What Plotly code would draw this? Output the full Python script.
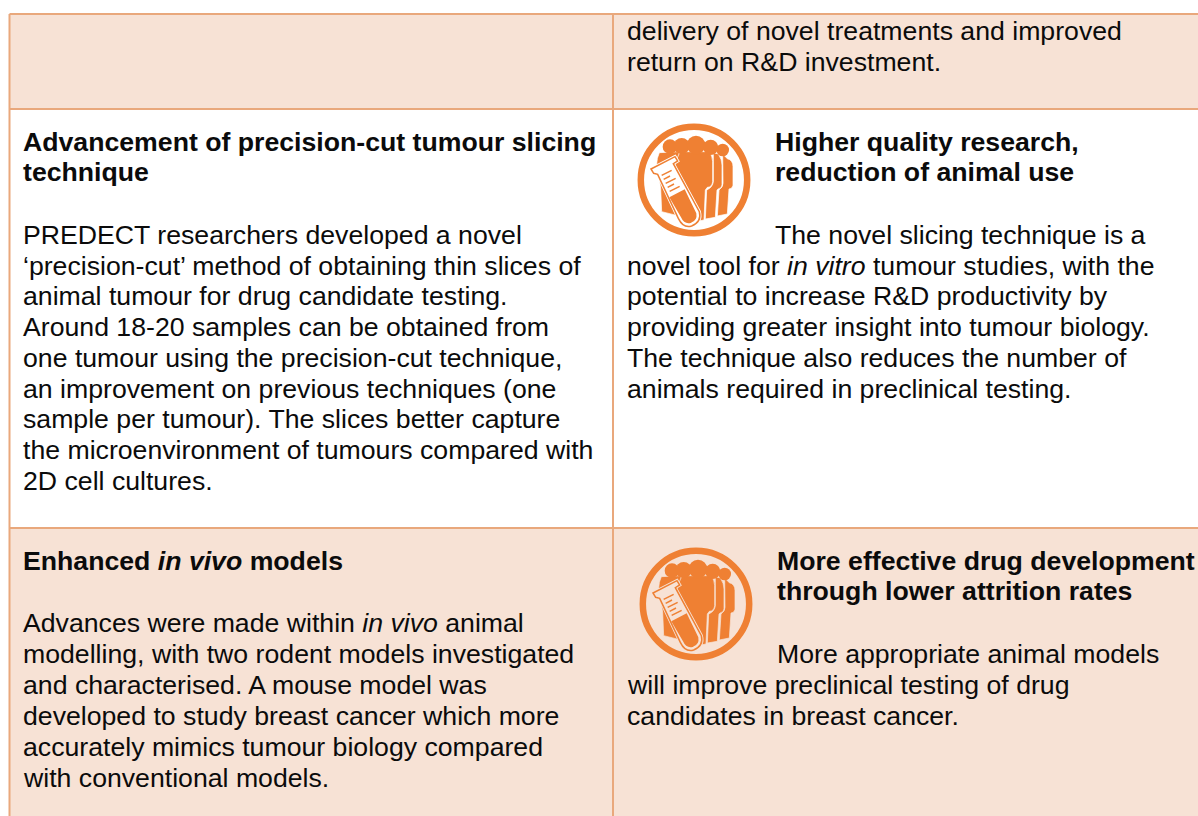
import re
import plotly.graph_objects as go

# ---- text content ----
TOP_RIGHT = ["delivery of novel treatments and improved", "return on R&D investment."]
SLICE_TITLE = ["<b>Advancement of precision-cut tumour slicing</b>", "<b>technique</b>"]
SLICE_BODY = [
    "PREDECT researchers developed a novel",
    "‘precision-cut’ method of obtaining thin slices of",
    "animal tumour for drug candidate testing.",
    "Around 18-20 samples can be obtained from",
    "one tumour using the precision-cut technique,",
    "an improvement on previous techniques (one",
    "sample per tumour). The slices better capture",
    "the microenvironment of tumours compared with",
    "2D cell cultures.",
]
QUALITY_TITLE = ["<b>Higher quality research,</b>", "<b>reduction of animal use</b>"]
QUALITY_LEAD = ["The novel slicing technique is a"]
QUALITY_BODY = [
    "novel tool for <i>in vitro</i> tumour studies, with the",
    "potential to increase R&D productivity by",
    "providing greater insight into tumour biology.",
    "The technique also reduces the number of",
    "animals required in preclinical testing.",
]
MODEL_TITLE = ["<b>Enhanced <i>in vivo</i> models</b>"]
MODEL_BODY = [
    "Advances were made within <i>in vivo</i> animal",
    "modelling, with two rodent models investigated",
    "and characterised. A mouse model was",
    "developed to study breast cancer which more",
    "accurately mimics tumour biology compared",
    "with conventional models.",
]
EFFECT_TITLE = ["<b>More effective drug development</b>", "<b>through lower attrition rates</b>"]
EFFECT_LEAD = ["More appropriate animal models"]
EFFECT_BODY = ["will improve preclinical testing of drug", "candidates in breast cancer."]

# ---- layout (pixels) ----
W, H = 1198, 816
FILL, LINE, ORANGE, INK = "#F7E2D5", "#E9A87C", "#EF8033", "#0B0B0B"
FONT_SIZE = 26.67
BLOCKS = [
    (TOP_RIGHT, 627, [31, 62]),
    (SLICE_TITLE, 23, [142, 172]),
    (SLICE_BODY, 23, [235, 266, 296, 327, 358, 389, 419, 450, 481]),
    (QUALITY_TITLE, 775, [142, 172]),
    (QUALITY_LEAD, 775, [235]),
    (QUALITY_BODY, 627, [266, 296, 327, 358, 389]),
    (MODEL_TITLE, 23, [561]),
    (MODEL_BODY, 23, [623, 654, 685, 716, 747, 778]),
    (EFFECT_TITLE, 777, [561, 591]),
    (EFFECT_LEAD, 777, [654]),
    (EFFECT_BODY, 627, [685, 716]),
]

fig = go.Figure()
shapes = []


def rect(x0, y0, x1, y1, color):
    shapes.append(dict(type="rect", x0=x0, y0=y0, x1=x1, y1=y1, fillcolor=color, line_width=0, layer="below"))


def rule(x0, y0, x1, y1):
    shapes.append(dict(type="line", x0=x0, y0=y0, x1=x1, y1=y1, line=dict(color=LINE, width=2), layer="below"))


rect(10, 15, W, 109, FILL)
rect(10, 528, W, H, FILL)
rule(9.5, 14, W, 14)
rule(9.5, 109, W, 109)
rule(9.5, 528, W, 528)
rule(9.5, 14, 9.5, H)
rule(613, 14, 613, H)

# icon outlines, in a local grid of 3 units per pixel around (222, 210)
HEADS = [(150, 110, 22), (185, 108, 24), (228, 105, 28), (272, 112, 23), (308, 120, 19)]
BODIES = [
    "M118,128 Q110,145 110,162 L122,235 L125,305 L185,320 L200,200 L175,125 Z",
    "M308,132 L322,146 Q339,150 339,170 L339,226 Q337,237 327,237 L322,312 L292,318 L297,240 Q309,232 309,220 Z",
    "M280,128 L295,132 Q306,148 306,165 L306,225 Q304,236 296,236 L291,240 L286,322 L256,327 L260,240 Q278,232 280,215 Z",
    "M180,125 L266,125 Q278,136 278,155 L278,215 Q276,232 262,232 L256,240 L252,330 L195,340 L165,215 L165,160 Z",
]
TUBE = "M93,177 L165,140 L173,153 L160,161 L238,305 Q246,335 215,348 Q190,356 175,325 L113,193 L101,190 Z"
LIQUID = "M148,262 L194,238 L229,310 Q233,332 212,339 Q193,344 183,322 Z"
TICKS = [
    "M125,196 L155,181", "M131,208 L150,198", "M137,220 L167,205",
    "M143,232 L162,222", "M149,244 L179,229",
]


def place(path, cx, cy):
    def conv(m):
        x = cx + (float(m.group(1)) - 222) / 3
        y = cy + (float(m.group(2)) - 210) / 3
        return f"{x:.2f},{y:.2f}"
    return re.sub(r"(-?\d+),(-?\d+)", conv, path)


def icon(cx, cy, bg):
    r = 53.2
    shapes.append(dict(type="circle", x0=cx - r, y0=cy - r, x1=cx + r, y1=cy + r,
                       fillcolor=bg, line=dict(color=ORANGE, width=6.5)))
    for b in BODIES:
        shapes.append(dict(type="path", path=place(b, cx, cy), fillcolor=ORANGE, line=dict(color=bg, width=0.7)))
    for hx, hy, hr in HEADS:
        x, y, q = cx + (hx - 222) / 3, cy + (hy - 210) / 3, hr / 3
        shapes.append(dict(type="circle", x0=x - q, y0=y - q, x1=x + q, y1=y + q,
                           fillcolor=ORANGE, line_width=0))
    shapes.append(dict(type="path", path=place(TUBE, cx, cy), fillcolor=bg, line=dict(color=bg, width=3.2)))
    shapes.append(dict(type="path", path=place(TUBE, cx, cy), fillcolor=bg, line=dict(color=ORANGE, width=1.5)))
    shapes.append(dict(type="path", path=place(LIQUID, cx, cy), fillcolor=ORANGE, line_width=0))
    for t in TICKS:
        shapes.append(dict(type="path", path=place(t, cx, cy), line=dict(color=ORANGE, width=1.5)))


icon(694, 180, "#FFFFFF")
icon(696, 604, FILL)

annotations = []
for lines, x, ys in BLOCKS:
    for text, y in zip(lines, ys):
        annotations.append(dict(x=x, y=y, text=text, xref="x", yref="y", showarrow=False,
                                xanchor="left", yanchor="middle", align="left",
                                font=dict(family="Liberation Sans", size=FONT_SIZE, color=INK),
                                borderpad=0, borderwidth=0))

fig.update_layout(
    width=W, height=H, margin=dict(l=0, r=0, t=0, b=0), autosize=False,
    paper_bgcolor="#FFFFFF", plot_bgcolor="#FFFFFF", showlegend=False,
    xaxis=dict(range=[0, W], visible=False, fixedrange=True),
    yaxis=dict(range=[H, 0], visible=False, fixedrange=True),
    shapes=shapes, annotations=annotations,
)
fig.write_html("out.html", config={"displayModeBar": False},
               post_script="document.body.style.margin='0';document.documentElement.style.overflow='hidden';")
